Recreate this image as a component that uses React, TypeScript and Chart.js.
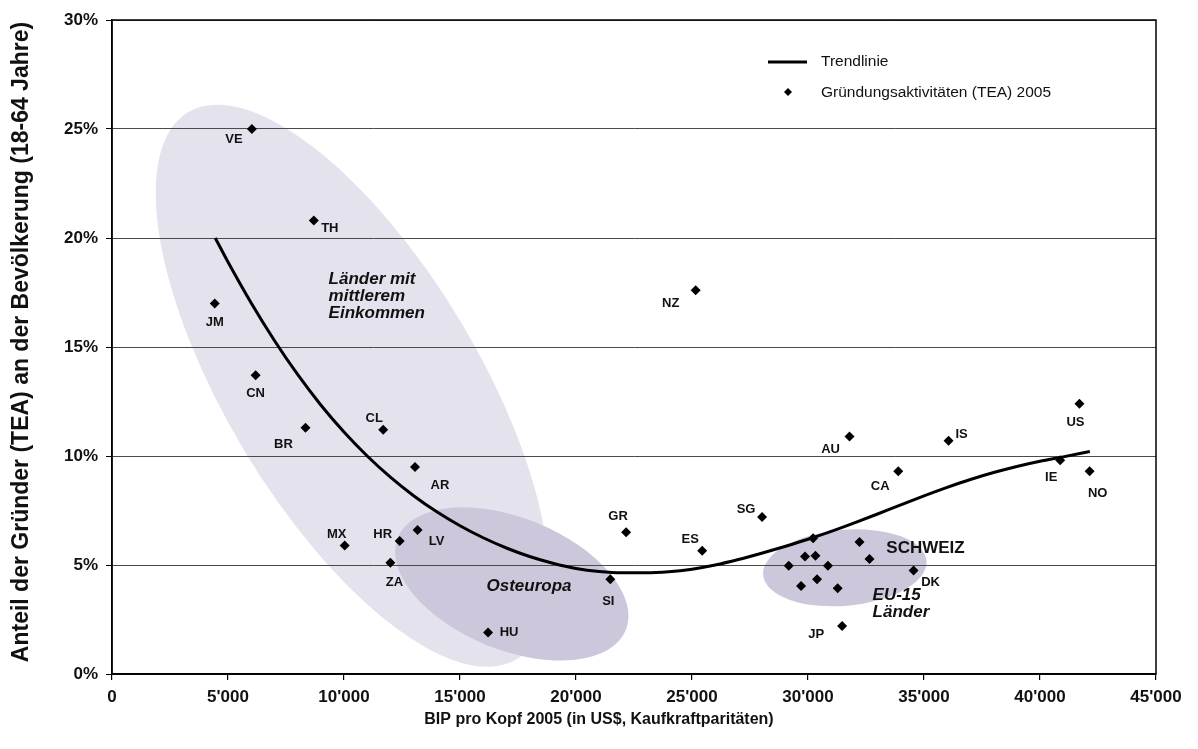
import React, { useEffect, useRef } from "react";
import { Chart, registerables } from "chart.js";

Chart.register(...registerables);

// ---------- data ----------
const countryCodes = [
  "VE", "TH", "JM", "CN", "BR", "CL", "AR", "MX", "HR", "LV", "ZA", "HU", "SI", "GR",
  "NZ", "ES", "SG", "AU", "CA", "IS", "US", "IE", "NO", "JP", "DK", "CH",
  "UK", "AT", "DE", "FR", "IT", "FI", "SE", "NL", "BE",
];
const pointLabels = [
  "VE", "TH", "JM", "CN", "BR", "CL", "AR", "MX", "HR", "LV", "ZA", "HU", "SI", "GR",
  "NZ", "ES", "SG", "AU", "CA", "IS", "US", "IE", "NO", "JP", "DK", "SCHWEIZ",
  "", "", "", "", "", "", "", "", "",
];
const gdpPerCapita = [
  6030, 8700, 4430, 6190, 8340, 11690, 13060, 10030, 12400, 13170, 12000, 16210, 21480, 22160,
  25160, 25440, 28020, 31790, 33890, 36060, 41700, 40870, 42140, 31470, 34550, 32220,
  30220, 32650, 29870, 30320, 29170, 30860, 29700, 30390, 31280,
];
const teaRate = [
  25.0, 20.8, 17.0, 13.7, 11.3, 11.2, 9.5, 5.9, 6.1, 6.6, 5.1, 1.9, 4.35, 6.5,
  17.6, 5.65, 7.2, 10.9, 9.3, 10.7, 12.4, 9.8, 9.3, 2.2, 4.75, 6.05,
  6.23, 5.27, 5.39, 5.42, 4.96, 4.97, 4.04, 4.35, 3.93,
];
const trendGdp = [
  4450, 5000, 6000, 7000, 8000, 9000, 10000, 11000, 12000, 13000, 14000, 15000, 16000,
  17000, 18000, 19000, 20000, 21000, 22000, 23000, 24000, 25000, 26000, 27000, 28000,
  29000, 30000, 31000, 32000, 33000, 34000, 35000, 36000, 37000, 38000, 39000, 40000,
  41000, 42150,
];
const trendTea = [
  20.0, 18.9, 17.02, 15.3, 13.74, 12.34, 11.1, 10.0, 9.03, 8.18, 7.44, 6.8, 6.25,
  5.78, 5.39, 5.08, 4.84, 4.7, 4.64, 4.64, 4.69, 4.81, 5.0, 5.25, 5.54,
  5.85, 6.18, 6.54, 6.93, 7.34, 7.76, 8.17, 8.56, 8.92, 9.24, 9.52, 9.76,
  9.96, 10.21,
];
const xTickLabels = ["0", "5'000", "10'000", "15'000", "20'000", "25'000", "30'000", "35'000", "40'000", "45'000"];
const yTickLabels = ["0%", "5%", "10%", "15%", "20%", "25%", "30%"];
const seriesNames = ["Trendlinie", "Gründungsaktivitäten (TEA) 2005"];
const groupNames = [["Länder mit", "mittlerem", "Einkommen"], ["Osteuropa"], ["EU-15", "Länder"]];
const xTitle = "BIP pro Kopf 2005 (in US$, Kaufkraftparitäten)";
const yTitle = "Anteil der Gründer (TEA) an der Bevölkerung (18-64 Jahre)";

// ---------- annotation styling (pixel offsets / sizes) ----------
const labelOffsets: Record<string, [number, number]> = {
  VE: [-18, 10], TH: [16, 8], JM: [0, 19], CN: [0, 18], BR: [-22, 17], CL: [-9, -11],
  AR: [25, 19], MX: [-8, -11], HR: [-17, -7], LV: [19, 11], ZA: [4, 20], HU: [21, 0],
  SI: [-2, 22], GR: [-8, -16], NZ: [-25, 13], ES: [-12, -11], SG: [-16, -8], AU: [-19, 13],
  CA: [-18, 15], IS: [13, -6], US: [-4, 19], IE: [-9, 17], NO: [8, 22], JP: [-26, 8],
  DK: [17, 12], CH: [66, 6],
};
const ellipses = [
  { cx: 10358, cy: 13.22, rx: 319, ry: 126, rot: 59, color: "#e4e2ec" },
  { cx: 17232, cy: 4.13, rx: 123, ry: 66, rot: 22, color: "#cdc7dc" },
  { cx: 31586, cy: 4.87, rx: 82, ry: 38, rot: -5, color: "#cdc7dc" },
];
const groupLabelPos = [
  { x: 9336, y: 18.12, align: "left" as CanvasTextAlign },
  { x: 17974, y: 4.01, align: "center" as CanvasTextAlign },
  { x: 32784, y: 3.63, align: "left" as CanvasTextAlign },
];

const FONT = "'Liberation Sans', Arial, Helvetica, sans-serif";

const annotPlugin = {
  id: "annot",
  beforeDraw(chart: any) {
    const { ctx, chartArea } = chart;
    const xs = chart.scales.x;
    const ys = chart.scales.y;
    ctx.save();
    ctx.beginPath();
    ctx.rect(chartArea.left, chartArea.top, chartArea.right - chartArea.left, chartArea.bottom - chartArea.top);
    ctx.clip();
    for (const g of ellipses) {
      ctx.beginPath();
      ctx.ellipse(xs.getPixelForValue(g.cx), ys.getPixelForValue(g.cy), g.rx, g.ry, (g.rot * Math.PI) / 180, 0, Math.PI * 2);
      ctx.fillStyle = g.color;
      ctx.fill();
    }
    ctx.restore();
  },
  afterDatasetsDraw(chart: any) {
    const { ctx } = chart;
    const xs = chart.scales.x;
    const ys = chart.scales.y;
    ctx.save();
    ctx.fillStyle = "#111";
    ctx.textBaseline = "middle";
    ctx.textAlign = "center";
    countryCodes.forEach((code, i) => {
      const lbl = pointLabels[i];
      const off = labelOffsets[code];
      if (!lbl || !off) return;
      const px = xs.getPixelForValue(gdpPerCapita[i]);
      const py = ys.getPixelForValue(teaRate[i]);
      ctx.font = lbl === "SCHWEIZ" ? `bold 17px ${FONT}` : `bold 13px ${FONT}`;
      ctx.fillText(lbl, px + off[0], py + off[1]);
    });
    ctx.font = `italic bold 17px ${FONT}`;
    groupNames.forEach((lines, gi) => {
      const p = groupLabelPos[gi];
      ctx.textAlign = p.align;
      const px = xs.getPixelForValue(p.x);
      const py = ys.getPixelForValue(p.y);
      lines.forEach((t, li) => ctx.fillText(t, px, py + li * 17.4));
    });
    ctx.restore();
  },
  afterDraw(chart: any) {
    const { ctx, chartArea } = chart;
    ctx.save();
    // plot frame
    ctx.strokeStyle = "#000";
    ctx.lineWidth = 1.5;
    ctx.strokeRect(chartArea.left, chartArea.top, chartArea.right - chartArea.left, chartArea.bottom - chartArea.top);
    // legend
    ctx.lineWidth = 3;
    ctx.beginPath();
    ctx.moveTo(768, 62);
    ctx.lineTo(807, 62);
    ctx.stroke();
    ctx.fillStyle = "#000";
    ctx.beginPath();
    const r = 4;
    ctx.moveTo(788, 92 - r);
    ctx.lineTo(788 + r, 92);
    ctx.lineTo(788, 92 + r);
    ctx.lineTo(788 - r, 92);
    ctx.closePath();
    ctx.fill();
    ctx.fillStyle = "#111";
    ctx.font = `15.5px ${FONT}`;
    ctx.textAlign = "left";
    ctx.textBaseline = "middle";
    ctx.fillText(seriesNames[0], 821, 62);
    ctx.fillText(seriesNames[1], 821, 93);
    // axis titles
    ctx.font = `bold 16px ${FONT}`;
    ctx.textAlign = "center";
    ctx.fillText(xTitle, 599, 720);
    ctx.translate(22, 342);
    ctx.rotate(-Math.PI / 2);
    ctx.font = `bold 23px ${FONT}`;
    ctx.fillText(yTitle, 0, 0);
    ctx.restore();
  },
};

export default function App() {
  const ref = useRef<HTMLCanvasElement | null>(null);
  useEffect(() => {
    document.body.style.margin = "0";
    const canvas = ref.current;
    if (!canvas) return;
    const tickFont = { family: FONT, size: 17, weight: "bold" as const };
    const chart = new Chart(canvas, {
      type: "scatter",
      data: {
        datasets: [
          {
            label: seriesNames[1],
            data: gdpPerCapita.map((x, i) => ({ x, y: teaRate[i] })),
            pointStyle: "rectRot",
            pointRadius: 5,
            backgroundColor: "#000",
            borderWidth: 0,
          },
          {
            type: "line",
            label: seriesNames[0],
            data: trendGdp.map((x, i) => ({ x, y: trendTea[i] })),
            showLine: true,
            pointRadius: 0,
            borderColor: "#000",
            borderWidth: 3,
            cubicInterpolationMode: "monotone",
            fill: false,
          } as any,
        ],
      },
      options: {
        animation: false,
        responsive: true,
        maintainAspectRatio: false,
        layout: { padding: { left: 0, top: 20, right: 42, bottom: 0 } },
        plugins: { legend: { display: false }, tooltip: { enabled: false } },
        scales: {
          x: {
            type: "linear",
            min: 0,
            max: 45000,
            afterFit: (s: any) => { s.height = 75; },
            ticks: {
              stepSize: 5000,
              color: "#111",
              font: tickFont,
              padding: 7,
              maxRotation: 0,
              callback: (v: any) => xTickLabels[Math.round(Number(v) / 5000)] ?? "",
            },
            grid: { drawOnChartArea: false, tickLength: 6, color: "#000", lineWidth: 1.2 },
            border: { display: true, color: "#000", width: 1.5 },
          },
          y: {
            type: "linear",
            min: 0,
            max: 30,
            afterFit: (s: any) => { s.width = 112; },
            ticks: {
              stepSize: 5,
              color: "#111",
              font: tickFont,
              padding: 8,
              callback: (v: any) => yTickLabels[Math.round(Number(v) / 5)] ?? "",
            },
            grid: { color: "#4a4a4a", lineWidth: 1, tickLength: 6, tickColor: "#000" },
            border: { display: true, color: "#000", width: 1.5 },
          },
        },
      },
      plugins: [annotPlugin],
    });
    return () => chart.destroy();
  }, []);
  return (
    <div style={{ width: 1198, height: 749, position: "relative", background: "#fff" }}>
      <canvas ref={ref} />
    </div>
  );
}
